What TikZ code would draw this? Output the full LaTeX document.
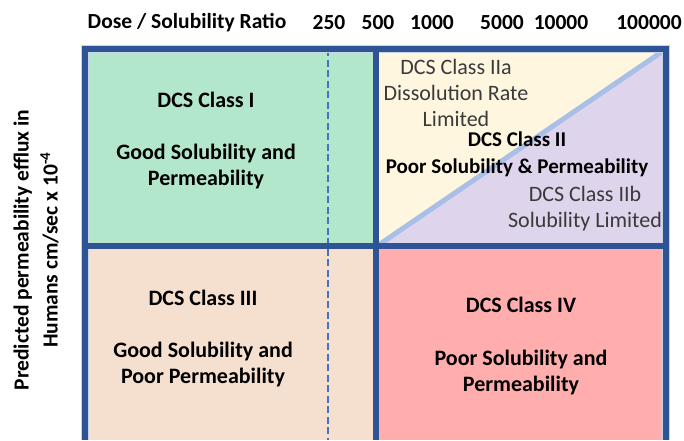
\documentclass[tikz,border=0pt]{standalone}
\usepackage{fontspec}
\setmainfont{Carlito}
\usepackage{tikz}

\definecolor{frameblue}{HTML}{2F5496}
\definecolor{framehalo}{HTML}{C9D3E6}
\definecolor{diagblue}{HTML}{A9BFE8}
\definecolor{dashblue}{HTML}{4472C4}
\definecolor{cellgreen}{HTML}{B3E7CB}
\definecolor{cellyellow}{HTML}{FFF6DF}
\definecolor{cellpurple}{HTML}{DED4EC}
\definecolor{cellsand}{HTML}{F5DFCF}
\definecolor{cellred}{HTML}{FFADAD}
\definecolor{softtext}{HTML}{3A3A3A}

\begin{document}
\begin{tikzpicture}[x=1pt,y=-1pt,
  axis text/.style={font=\bfseries\fontsize{21.5}{26}\selectfont},
  class text/.style={font=\bfseries\fontsize{22}{26}\selectfont, align=center},
  sub text/.style={font=\fontsize{22}{26}\selectfont, text=softtext, align=center},
  frame line/.style={draw=frameblue, line width=6pt},
  ]
  \useasboundingbox (0,0) rectangle (684,440);
  % cells
  \fill[cellgreen] (85,49) rectangle (376,246);
  \fill[cellyellow] (376,49) rectangle (666,246);
  \fill[cellpurple] (380,244) -- (663,51) -- (666,246) -- cycle;
  \fill[cellsand] (85,246) rectangle (376,440);
  \fill[cellred] (376,246) rectangle (666,440);
  \draw[diagblue, line width=5pt] (380,244) -- (663,51);
  \draw[dashblue, line width=2pt, dash pattern=on 7pt off 3.5pt] (328,49) -- (328,440);
  % frame
  \draw[framehalo, line width=8pt] (85,440) |- (666,49) -- (666,440);
  \draw[frame line] (85,440) |- (666,49) -- (666,440);
  \draw[frame line] (376,49) -- (376,440);
  \draw[frame line] (85,246) -- (666,246);

  % top axis
  \node[axis text] (ratio) at (187,23) {Dose / Solubility Ratio};
  \node[axis text] (t250) at (329,23) {250};
  \node[axis text] (t500) at (378,23) {500};
  \node[axis text] (t1000) at (432,23) {1000};
  \node[axis text] (t5000) at (502,23) {5000};
  \node[axis text] (t10000) at (561,23) {10000};
  \node[axis text] (t100000) at (649,23) {100000};
  % side axis
  \node[axis text, rotate=90, align=center, font=\bfseries\fontsize{21.5}{29}\selectfont]
    (perm) at (36,250) {Predicted permeability efflux in\\Humans cm/sec x 10\textsuperscript{-4}};

  % class labels
  \node[class text] (c1) at (206,141) {DCS Class I\\[26pt]Good Solubility and\\Permeability};
  \node[sub text] (c2a) at (456,93) {DCS Class IIa\\Dissolution Rate\\Limited};
  \node[class text, font=\bfseries\fontsize{21}{27}\selectfont] (c2) at (517,154) {DCS Class II\\Poor Solubility \& Permeability};
  \node[sub text] (c2b) at (585,208.5) {DCS Class IIb\\Solubility Limited};
  \node[class text] (c3) at (203,338.5) {DCS Class III\\[26pt]Good Solubility and\\Poor Permeability};
  \node[class text] (c4) at (521,346) {DCS Class IV\\[26pt]Poor Solubility and\\Permeability};
\end{tikzpicture}
\end{document}
